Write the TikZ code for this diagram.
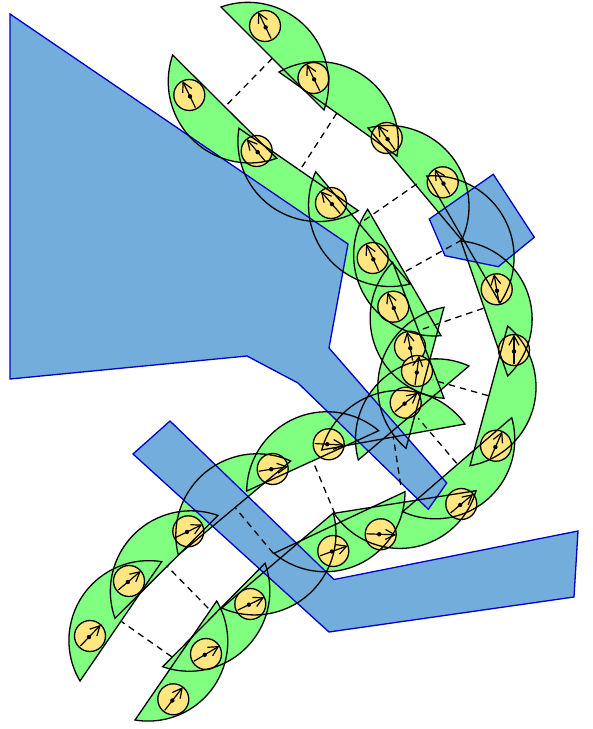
\documentclass[tikz,border=0pt]{standalone}
\usetikzlibrary{arrows.meta}
\definecolor{sensor}{RGB}{128,255,128}
\definecolor{wall}{RGB}{115,173,219}
\definecolor{walledge}{RGB}{0,0,200}
\definecolor{robot}{RGB}{255,230,128}
\tikzset{
  wallshape/.style={fill=wall,draw=walledge,line width=1.3pt,line join=miter},
  sectorline/.style={draw=black,line width=1.3pt,line join=miter},
  link/.style={draw=black,line width=1.3pt,dash pattern=on 6.5pt off 5pt},
  robotdisc/.style={fill=robot,draw=black,line width=1.3pt},
  heading/.style={draw=black,line width=1.2pt,-{Straight Barb[length=9.5pt,width=10pt,line width=1.2pt]}}
}
\newcommand\SegList{221/7/324/110,279/72/397/156,368/128/461.7/240,426.7/176/500/303,461/241/507.7/376,507.7/326/470/465.7,511.7/417.7/402.7/511.7,476/490.7/334/513.3,405/491.7/274/553.3,333.3/513/221.7/608,265/563.3/162.7/666.7,216.7/601/135/720,276.7/158.3/172.7/55,358.3/210.7/239/128.3,410/284/315.7/171.7,441/335.7/367.7/209.3,444/398.3/392.7/262.3,406/448.3/444/307.3,358.3/460/469/366,321.7/450/465/424,246.7/491/378.7/430.7,178.3/555/290.7/461,115/618.3/218/515.5,80/681/161.7/561.7}
\newcommand\RobotList{265/26/116,313.5/78/116,386.7/138/125,442.7/182.3/121,496.7/289.3/100,514/350/90,496/445.7/66,461.3/504/40,380.7/534.3/-2,333.3/551/20,250.3/604/26,206/654/31,173.3/699.3/52,189.3/95/116,256.7/151/130,331/203/131,372.7/258/115,393.3/306.7/112,410/346.7/101,417/371/82,405.7/402.7/40,328.7/444.3/-3,272.7/469/9,188.3/531.3/26,129/581/40,90/636/46}
\newcommand\SegCalc[4]{%
  \pgfmathsetmacro\ddx{#3-#1}\pgfmathsetmacro\ddy{#4-#2}%
  \pgfmathsetmacro\ccl{veclen(\ddx,\ddy)}%
  \pgfmathsetmacro\rrad{(\ccl/2*\ccl/2+46*46)/92}%
  \pgfmathsetmacro\ccx{(#1+#3)/2-\ddy/\ccl*(\rrad-46)}%
  \pgfmathsetmacro\ccy{(#2+#4)/2+\ddx/\ccl*(\rrad-46)}%
  \pgfmathsetmacro\aone{atan2(#2-\ccy,#1-\ccx)}%
  \pgfmathsetmacro\atwo{atan2(#4-\ccy,#3-\ccx)}%
  \pgfmathsetmacro\atwo{\atwo<\aone?\atwo+360:\atwo}%
}
\begin{document}
\begin{tikzpicture}[x=1pt,y=1pt,yscale=-1]
\useasboundingbox (0,0) rectangle (593,729);
% sensor footprints
\foreach \px/\py/\qx/\qy in \SegList {
  \SegCalc{\px}{\py}{\qx}{\qy}
  \fill[sensor] (\px,\py) arc[start angle=\aone,end angle=\atwo,radius=\rrad] -- cycle;
}
% obstacles
\path[wallshape] (10,14) -- (348,244) -- (329,348) -- (446.7,483) -- (428.3,509.3) -- (298,383) -- (247,356) -- (10,379) -- cycle;
\path[wallshape] (429.3,219) -- (493.3,174.3) -- (534.3,237.3) -- (498.3,266.7) -- (445,255.7) -- cycle;
\path[wallshape] (133,454) -- (170,421) -- (334,579.5) -- (578,531) -- (574,597) -- (329,632) -- cycle;
% links
\foreach \ax/\ay/\bx/\by in {272.3/58.3/225.7/106,336.7/113.3/300/170,416.7/184/360/223.3,461.7/240/405/271.7,483.3/308.3/420/330,488.3/395.7/432.7/380,456.7/463.3/418.3/418.3,400.7/485/393.3/436.7,335/514/312.7/460.7,273.3/553.3/235.7/508.3,208.3/608.3/166.7/565.7,171.7/656.7/121.7/621.7}
  \draw[link] (\ax,\ay) -- (\bx,\by);
% robots
\foreach \x/\y/\a in \RobotList
  \path[robotdisc] (\x,\y) circle[radius=15.5];
% footprint outlines
\foreach \px/\py/\qx/\qy in \SegList {
  \SegCalc{\px}{\py}{\qx}{\qy}
  \path[sectorline] (\px,\py) arc[start angle=\aone,end angle=\atwo,radius=\rrad] -- cycle;
}
% headings
\foreach \x/\y/\a in \RobotList {
  \draw[heading] ({\x-14*cos(\a)},{\y+14*sin(\a)}) -- ({\x+15.5*cos(\a)},{\y-15.5*sin(\a)});
  \fill[black] ({\x-1.5*cos(\a)},{\y+1.5*sin(\a)}) circle[radius=2.2];
}
\end{tikzpicture}
\end{document}
